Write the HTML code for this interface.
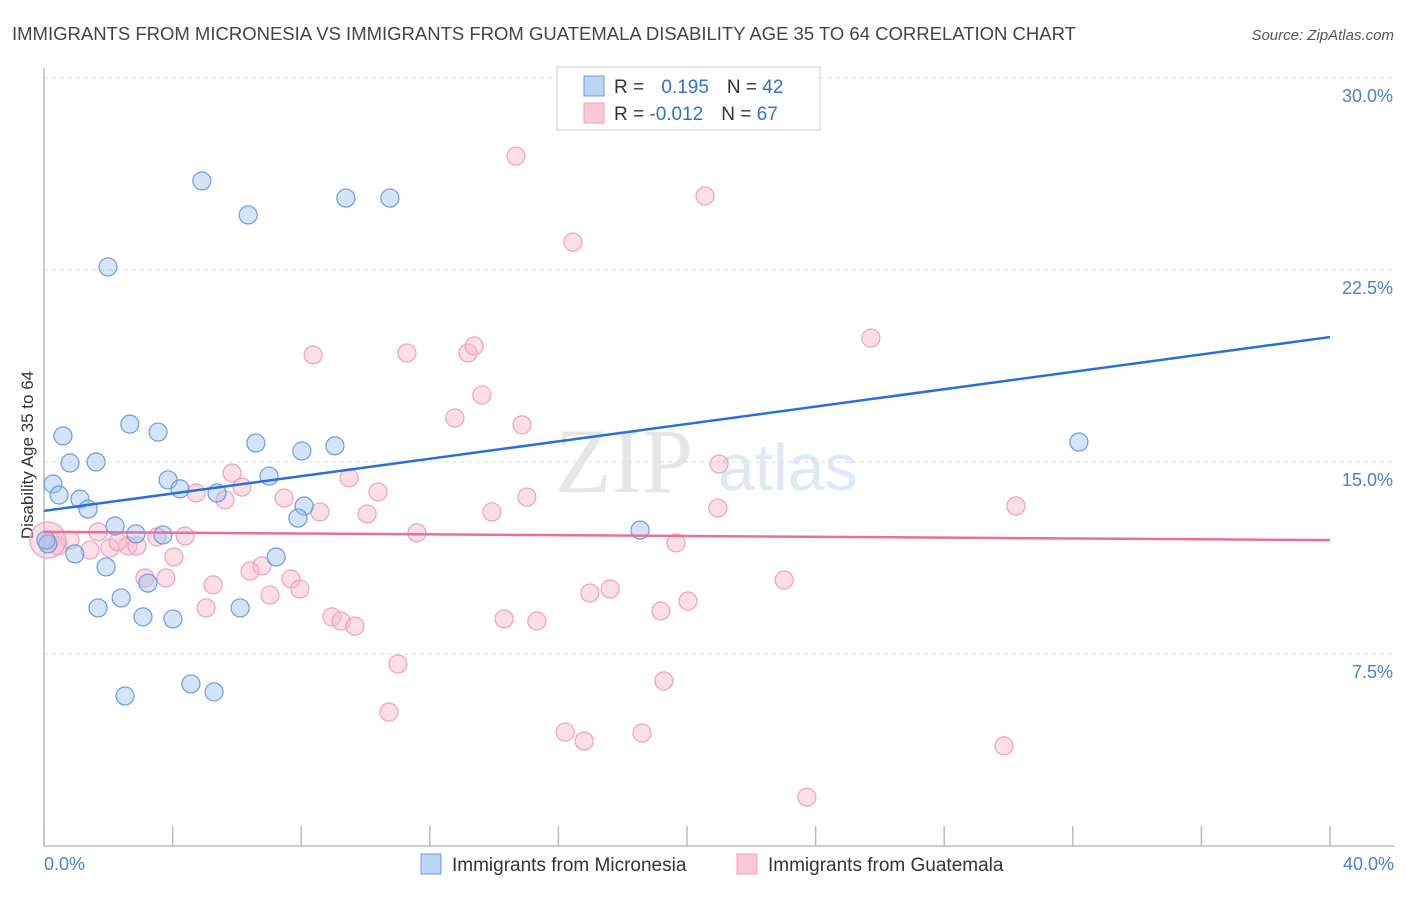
<!DOCTYPE html>
<html><head><meta charset="utf-8"><style>
body{margin:0;background:#fff;font-family:"Liberation Sans",sans-serif}
</style></head><body>
<svg id="chart" width="1406" height="892" xmlns="http://www.w3.org/2000/svg" font-family="Liberation Sans, sans-serif">
<text x="12" y="40" font-size="18.5" fill="#444">IMMIGRANTS FROM MICRONESIA VS IMMIGRANTS FROM GUATEMALA DISABILITY AGE 35 TO 64 CORRELATION CHART</text>
<text x="1394" y="40" font-size="15" fill="#555" font-style="italic" text-anchor="end">Source: ZipAtlas.com</text>
<text x="555" y="492" font-size="92" fill="#e6e6e6" font-family="Liberation Serif, serif">ZIP</text>
<text x="718" y="490" font-size="66" fill="#dfe9f6">atlas</text>
<text transform="translate(33,455) rotate(-90)" font-size="17" fill="#333" text-anchor="middle">Disability Age 35 to 64</text>
<g id="grid"></g><g id="axes"></g><g id="marks"></g>
<g>
<rect x="557" y="67" width="263" height="63" fill="#fff" stroke="#ccc"/>
<rect x="584" y="76" width="20" height="20" fill="#bcd5f5" stroke="#6b9be0"/>
<rect x="584" y="103" width="20" height="20" fill="#fac8d7" stroke="#f0a0b8"/>
<text x="614" y="93" font-size="19" fill="#333">R = <tspan fill="#2f6fd0" dx="12">0.195</tspan><tspan fill="#333" dx="18">N = </tspan><tspan fill="#2f6fd0">42</tspan></text>
<text x="614" y="120" font-size="19" fill="#333">R = <tspan fill="#2f6fd0">-0.012</tspan><tspan fill="#333" dx="18">N = </tspan><tspan fill="#2f6fd0">67</tspan></text>
</g>
<g>
<rect x="421" y="854" width="20" height="20" fill="#bcd5f5" stroke="#6b9be0"/>
<text x="452" y="871" font-size="19" fill="#333">Immigrants from Micronesia</text>
<rect x="737" y="854" width="20" height="20" fill="#fac8d7" stroke="#f0a0b8"/>
<text x="768" y="871" font-size="19" fill="#333">Immigrants from Guatemala</text>
</g>
</svg>
<script>
const yTicks=[7.5,15,22.5,30];
const yTickLabels=["7.5%","15.0%","22.5%","30.0%"];
const xTicks=[0,4,8,12,16,20,24,28,32,36,40];
const xTickLabels=["0.0%","40.0%"];
const blueX=[4.91,6.35,9.39,10.76,1.99,0.59,2.67,3.55,6.59,8.02,9.05,0.81,1.62,0.28,0.47,1.12,1.37,3.86,4.23,5.38,7.0,8.09,7.9,2.21,2.86,3.70,0.12,0.96,1.93,7.22,3.23,2.40,1.68,3.08,4.01,6.10,2.52,4.57,5.29,18.54,32.19,0.06];
const blueY=[25.98,24.65,25.31,25.31,22.62,16.02,16.48,16.17,15.74,15.43,15.63,14.96,15.0,14.14,13.71,13.55,13.16,14.30,13.95,13.79,14.45,13.28,12.81,12.5,12.19,12.15,11.80,11.41,10.90,11.29,10.27,9.69,9.30,8.95,8.87,9.30,5.86,6.33,6.02,12.34,15.78,11.95];
const pinkX=[14.68,20.56,16.45,25.72,8.37,11.29,13.19,13.38,13.62,12.78,14.87,21.0,5.85,6.16,4.73,5.63,9.49,10.39,7.47,8.58,10.05,13.93,15.02,20.96,30.23,1.68,4.39,11.60,0.19,0.44,0.81,1.43,2.05,2.61,2.89,3.51,2.30,4.04,19.66,3.14,3.79,5.26,6.41,6.78,7.68,7.96,7.03,5.04,8.96,9.24,9.67,14.31,15.33,16.98,17.61,19.19,20.03,23.02,11.01,10.73,16.21,16.80,18.6,19.28,29.86,23.73,0.12];
const pinkY=[26.95,25.39,23.59,19.84,19.18,19.26,19.26,19.53,17.62,16.72,16.45,14.92,14.57,14.02,13.79,13.52,14.38,13.83,13.59,13.05,12.97,13.05,13.63,13.2,13.28,12.27,12.11,12.23,11.95,11.72,11.95,11.56,11.64,11.72,11.72,12.07,11.88,11.29,11.84,10.47,10.47,10.20,10.74,10.94,10.43,10.04,9.80,9.30,8.95,8.79,8.59,8.87,8.79,9.88,10.04,9.18,9.57,10.39,7.11,5.23,4.45,4.10,4.41,6.45,3.91,1.91,11.95];
const pinkR=pinkX.map((v,i)=>i===pinkX.length-1?18:9);
const blueTrend=[13.09,19.88];
const pinkTrend=[12.27,11.95];
const NS="http://www.w3.org/2000/svg";
const sx=v=>44+v/40*1286, sy=v=>846-v/7.5*192;
function mk(tag,attrs,parent){const e=document.createElementNS(NS,tag);for(const k in attrs)e.setAttribute(k,attrs[k]);document.getElementById(parent).appendChild(e);return e;}
yTicks.forEach((t,i)=>{
 const l=mk('line',{x1:44,x2:1394,y1:sy(t),y2:sy(t),stroke:'#ddd','stroke-dasharray':'4,4'},'grid');
 
 
 const tx=mk('text',{x:1393,y:sy(t)+24,'font-size':18,fill:'#4a7fd4','text-anchor':'end'},'grid');
 tx.textContent=yTickLabels[i];
 
 
});
const ax=mk('line',{x1:44,x2:44,y1:68,y2:846,stroke:'#bbb','stroke-width':1.5},'axes');


const bx=mk('line',{x1:44,x2:1394,y1:846,y2:846,stroke:'#bbb','stroke-width':1.5},'axes');


xTicks.forEach(t=>{
 const l=mk('line',{x1:sx(t),x2:sx(t),y1:826,y2:846,stroke:'#bbb','stroke-width':1.5},'axes');
 
 
});
[[0,'start',44],[40,'end',1394]].forEach((d,i)=>{
 const tx=mk('text',{x:d[2],y:870,'font-size':18,fill:'#4a7fd4','text-anchor':d[1]},'axes');
 tx.textContent=xTickLabels[i];
 
 
});
pinkX.forEach((v,i)=>{
 const c=mk('circle',{cx:sx(v),cy:sy(pinkY[i]),r:pinkR[i],fill:'rgba(248,182,202,0.45)',stroke:'#f0a0b8','stroke-width':1.2},'marks');
 
 
});
blueX.forEach((v,i)=>{
 const c=mk('circle',{cx:sx(v),cy:sy(blueY[i]),r:9,fill:'rgba(160,196,240,0.45)',stroke:'#6b9be0','stroke-width':1.2},'marks');
 
 
});
const bl=mk('line',{x1:sx(0),y1:sy(blueTrend[0]),x2:sx(40),y2:sy(blueTrend[1]),stroke:'#2a6fd6','stroke-width':2.5},'marks');


const pl=mk('line',{x1:sx(0),y1:sy(pinkTrend[0]),x2:sx(40),y2:sy(pinkTrend[1]),stroke:'#e8709a','stroke-width':2.5},'marks');


</script>
</body></html>
